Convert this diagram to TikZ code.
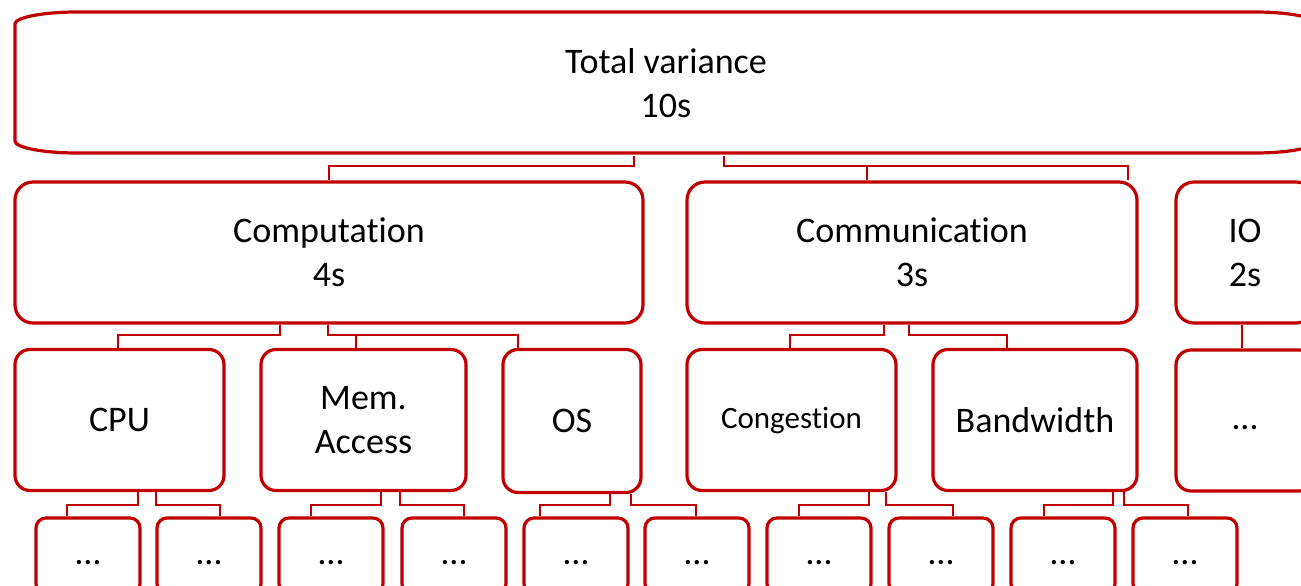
\documentclass[tikz,border=0pt]{standalone}
\usepackage{fontspec}
\setmainfont{Carlito}[RawFeature={-liga;-clig;-calt;-dlig}]
\definecolor{boxred}{HTML}{C00000}
\begin{document}
\begin{tikzpicture}[x=1pt,y=-1pt,
  box/.style={draw=boxred, line width=3.2pt, fill=white, align=center, inner sep=0pt, font=\fontsize{36}{44}\selectfont},
  lvtwo/.style={box, rounded corners=18pt, minimum height=141pt},
  lvthree/.style={box, rounded corners=15pt, minimum height=141pt},
  lvfour/.style={box, rounded corners=10pt, minimum width=104pt, minimum height=76pt},
  conn/.style={draw=boxred, line width=2pt}
]
\useasboundingbox (0,0) rectangle (1301,586);
\clip (0,0) rectangle (1301,586);
\coordinate (b1) at (0,166);
\coordinate (b2) at (0,335);
\coordinate (b3) at (0,505);

% top level
\node[box, draw=none, fill=none, minimum width=1302pt, minimum height=141pt] (T) at (666,83.5) {Total variance\\10s};
\draw[draw=boxred, line width=3.2pt] (77,12) -- (1255,12) .. controls (1289,12) and (1317,17.4) .. (1317,24)
  -- (1317,141) .. controls (1317,147.6) and (1289,153) .. (1255,153)
  -- (77,153) .. controls (43,153) and (15,147.6) .. (15,141)
  -- (15,24) .. controls (15,17.4) and (43,12) .. (77,12) -- cycle;

% level 2
\node[lvtwo, minimum width=628pt] (C1) at (329,252.5) {Computation\\4s};
\node[lvtwo, minimum width=450pt] (C2) at (912,252.5) {Communication\\3s};
\node[lvtwo, minimum width=138pt] (C3) at (1245,252.5) {IO\\2s};

% level 3
\node[lvthree, minimum width=209pt] (L1) at (119.5,420) {CPU};
\node[lvthree, minimum width=205pt] (L2) at (363.5,420) {Mem.\\Access};
\node[lvthree, minimum width=138pt, minimum height=143pt] (L3) at (572,421) {OS};
\node[lvthree, minimum width=209pt, font=\fontsize{31}{38}\selectfont] (L4) at (791.5,420) {Congestion};
\node[lvthree, minimum width=204pt] (L5) at (1035,420) {Bandwidth};
\node[lvthree, minimum width=138pt] (L6) at (1245,420.5) {\strut…};

% level 4
\foreach \i/\x in {1/36,2/157,3/279,4/402,5/524,6/645,7/767,8/889,9/1011,10/1133}
  \node[lvfour] (D\i) at ({\x+52},556) {\strut…};

% connectors level 1 -> 2
\draw[conn] (T.south -| 634,0) |- (b1 -| C1.north) -- (C1.north);
\draw[conn] (T.south -| 724,0) |- (b1 -| 1128,0) -- (C2.north -| 1128,0);
\draw[conn] (b1 -| 867,0) -- (C2.north -| 867,0);

% connectors level 2 -> 3
\draw[conn] (C1.south -| 280,0) |- (b2 -| 118,0) -- (L1.north -| 118,0);
\draw[conn] (C1.south -| 328,0) |- (b2 -| 518,0) -- (L3.north -| 518,0);
\draw[conn] (b2 -| 356,0) -- (L2.north -| 356,0);
\draw[conn] (C2.south -| 884,0) |- (b2 -| 790,0) -- (L4.north -| 790,0);
\draw[conn] (C2.south -| 909,0) |- (b2 -| 1007,0) -- (L5.north -| 1007,0);
\draw[conn] (C3.south -| 1242,0) -- (L6.north -| 1242,0);

% connectors level 3 -> 4
\draw[conn] (L1.south -| 138,0) |- (b3 -| 67,0) -- (D1.north -| 67,0);
\draw[conn] (L1.south -| 156,0) |- (b3 -| 220,0) -- (D2.north -| 220,0);
\draw[conn] (L2.south -| 381,0) |- (b3 -| 311,0) -- (D3.north -| 311,0);
\draw[conn] (L2.south -| 400,0) |- (b3 -| 464,0) -- (D4.north -| 464,0);
\draw[conn] (L3.south -| 610,0) |- (b3 -| 540,0) -- (D5.north -| 540,0);
\draw[conn] (L3.south -| 631,0) |- (b3 -| 696,0) -- (D6.north -| 696,0);
\draw[conn] (L4.south -| 869,0) |- (b3 -| 799,0) -- (D7.north -| 799,0);
\draw[conn] (L4.south -| 886,0) |- (b3 -| 953,0) -- (D8.north -| 953,0);
\draw[conn] (L5.south -| 1113,0) |- (b3 -| 1044,0) -- (D9.north -| 1044,0);
\draw[conn] (L5.south -| 1124,0) |- (b3 -| 1188,0) -- (D10.north -| 1188,0);
\end{tikzpicture}
\end{document}
